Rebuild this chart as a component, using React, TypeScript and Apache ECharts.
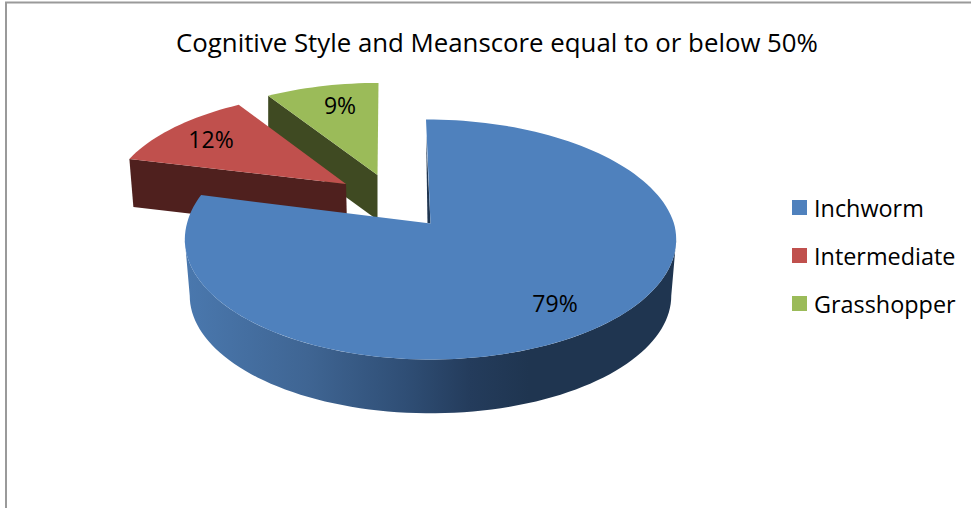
import React, { useEffect, useRef } from "react";
import * as echarts from "echarts";

const titleText = "Cognitive Style and Meanscore equal to or below 50%";
const categories = ["Inchworm", "Intermediate", "Grasshopper"];
const shares = [79, 12, 9];

// Placement of each exploded wedge on the tilted disc.
const wedgeLayout = [
  { ax: 430.5, ay: 223.5, kx: 1, ky: 1, shear: 4.5, depth: 56.5, wallDx: 0, labelX: 555, labelY: 303 },
  { ax: 346, ay: 184, kx: 0.955, ky: 0.885, shear: -5.6, depth: 48, wallDx: 4, labelX: 211, labelY: 139 },
  { ax: 377.5, ay: 175, kx: 0.939, ky: 0.885, shear: -1, depth: 45, wallDx: 0, labelX: 340, labelY: 105 },
];
const topColors = ["#4f81bd", "#c0504d", "#9bbb59"];
const wallColors = ["#1f3550", "#4f201e", "#3f4a22"];

const FONT = "'Open Sans'";
const RADIUS_X = 243.5;
const RADIUS_Y = 117.9;
const PERSPECTIVE = 0.133;

// Projects a clockwise-from-top angle on the disc to the screen, relative to the apex.
function project(deg: number, scale = 1, k = wedgeLayout[0]) {
  const t = (deg * Math.PI) / 180;
  const u = Math.sin(t);
  const v = -Math.cos(t);
  const w = 1 / (1 - PERSPECTIVE * v);
  return [
    k.ax + scale * k.kx * RADIUS_X * u * w + (v < 0 ? k.shear * v : 0),
    k.ay + scale * k.ky * RADIUS_Y * v * w,
  ];
}

function arc(from: number, to: number, scale: number, k: typeof wedgeLayout[0]) {
  const n = Math.max(2, Math.ceil(Math.abs(to - from) / 2));
  const pts: number[][] = [];
  for (let i = 0; i <= n; i++) pts.push(project(from + ((to - from) * i) / n, scale, k));
  return pts;
}

function renderWedge(index: number) {
  return (_params: any, api: any) => {
    const total = shares.reduce((a, b) => a + b, 0);
    const value = api.value(0);
    const before = shares.slice(0, index).reduce((a, b) => a + b, 0);
    const start = (before / total) * 360;
    const end = start + (value / total) * 360;
    const k = wedgeLayout[index];
    const apex = [k.ax, k.ay];
    const children: any[] = [];

    if (index === 0) {
      // Curved outer wall between the two widest points of the disc.
      const edgeDeg = (Math.acos(-PERSPECTIVE) * 180) / Math.PI;
      const topEdge = arc(edgeDeg, 360 - edgeDeg, 1, k);
      const bottomEdge = arc(360 - edgeDeg, edgeDeg, 0.98, k).map((p) => [p[0], p[1] + k.depth]);
      children.push({
        type: "polygon",
        shape: { points: topEdge.concat(bottomEdge) },
        style: {
          fill: new echarts.graphic.LinearGradient(0, 0, 1, 0, [
            { offset: 0, color: "#4a78ae" },
            { offset: 0.25, color: "#3f6593" },
            { offset: 0.45, color: "#2f4e75" },
            { offset: 0.58, color: "#243c5c" },
            { offset: 0.7, color: "#1f3550" },
            { offset: 1, color: "#1f3550" },
          ]),
        },
      });
      // Sliver of the cut face beside the apex.
      children.push({
        type: "polygon",
        shape: { points: [[k.ax - 4.4, 135], [k.ax - 3, k.ay - 0.3], [k.ax, k.ay]] },
        style: { fill: "#1f3550" },
      });
    } else {
      // Flat cut face along the wedge's leading edge.
      const outer = project(start, 1, k);
      children.push({
        type: "polygon",
        shape: {
          points: [
            outer,
            apex,
            [apex[0] + k.wallDx * 0.3, apex[1] + k.depth],
            [outer[0] + k.wallDx, outer[1] + k.depth],
          ],
        },
        style: { fill: wallColors[index] },
      });
    }

    children.push({
      type: "polygon",
      shape: { points: [apex, ...arc(start, end, 1, k)] },
      style: { fill: topColors[index] },
    });
    children.push({
      type: "text",
      style: {
        text: `${value}%`,
        x: k.labelX,
        y: k.labelY,
        fill: "#000",
        font: `23px ${FONT}`,
        align: "center",
        verticalAlign: "middle",
      },
    });
    return { type: "group", children };
  };
}

export default function App() {
  const ref = useRef<HTMLDivElement>(null);
  useEffect(() => {
    const chart = echarts.init(ref.current!, undefined, { renderer: "svg" });
    chart.setOption({
      animation: false,
      backgroundColor: "#ffffff",
      title: {
        text: titleText,
        left: 492,
        top: 24,
        textAlign: "center",
        textStyle: { fontFamily: "Open Sans", fontSize: 25.8, fontWeight: "normal", color: "#000" },
      },
      legend: {
        data: categories,
        orient: "vertical",
        left: 787,
        top: 191,
        icon: "rect",
        itemWidth: 15,
        itemHeight: 15,
        itemGap: 25,
        selectedMode: false,
        textStyle: { fontFamily: "Open Sans", fontSize: 23.4, color: "#000", padding: [0, 0, 0, 2] },
      },
      graphic: [
        { type: "line", shape: { x1: 5, y1: 2.5, x2: 971, y2: 2.5 }, style: { stroke: "#9a9a9a", lineWidth: 2 } },
        { type: "line", shape: { x1: 6, y1: 2, x2: 6, y2: 508 }, style: { stroke: "#9a9a9a", lineWidth: 2 } },
      ],
      // Painted back to front: green, red, then the large blue wedge.
      series: [2, 1, 0].map((i) => ({
        type: "custom",
        name: categories[i],
        coordinateSystem: "none",
        silent: true,
        z: 3 - i,
        itemStyle: { color: topColors[i] },
        data: [[shares[i]]],
        renderItem: renderWedge(i),
      })),
    });
    return () => chart.dispose();
  }, []);
  return <div ref={ref} style={{ position: "fixed", left: 0, top: 0, width: 971, height: 508 }} />;
}
